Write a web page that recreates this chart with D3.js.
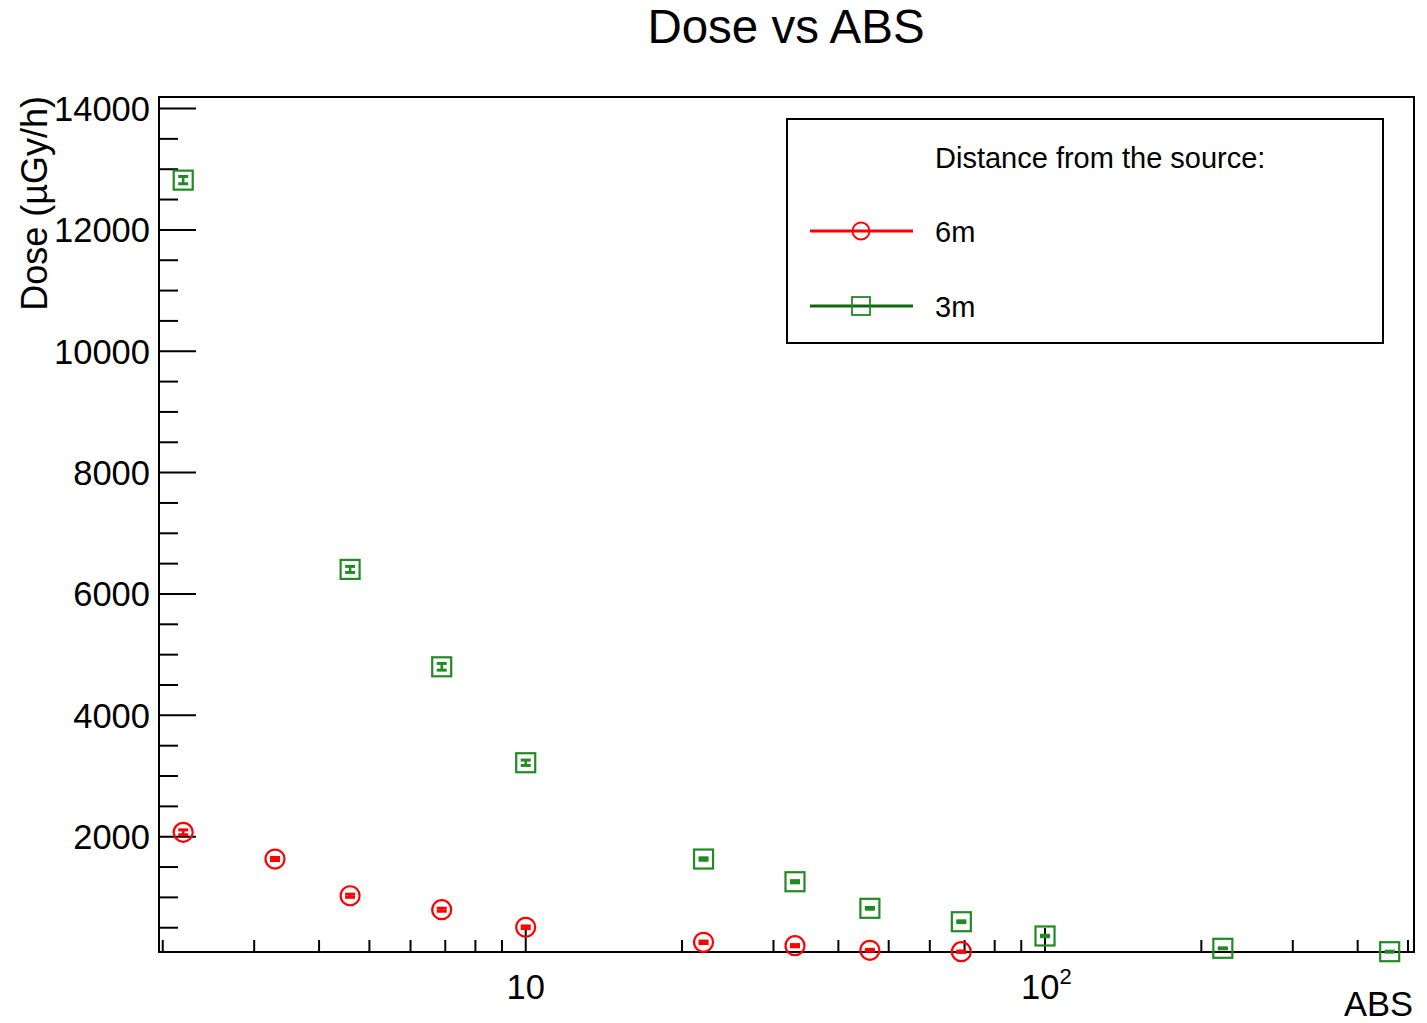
<!DOCTYPE html>
<html><head><meta charset="utf-8">
<script src="https://cdn.jsdelivr.net/npm/d3@7"></script>
<style>body{margin:0;background:#fff} text{font-family:"Liberation Sans",Arial,Helvetica,sans-serif;fill:#000}</style>
</head><body><svg id="c" width="1427" height="1023"></svg>
<script>
// ---- data ----
const abs6m  = [2.19, 3.29, 4.59, 6.89, 10, 22, 33, 46, 69];
const dose6m = [2072, 1632, 1027, 797, 507, 260, 204, 128, 105];
const err6m  = [40, 25, 25, 25, 22, 20, 18, 15, 12];
const abs3m  = [2.19, 4.59, 6.89, 10, 22, 33, 46, 69, 100, 220, 461];
const dose3m = [12820, 6405, 4800, 3219, 1632, 1258, 820, 599, 364, 161, 105];
const err3m  = [60, 50, 55, 44, 20, 18, 15, 15, 12, 8, 8];
const yTicks = [2000, 4000, 6000, 8000, 10000, 12000, 14000];
const yTickLabels = ["2000", "4000", "6000", "8000", "10000", "12000", "14000"];
const xMajor = [10, 100];
const xMinor = [2,3,4,5,6,7,8,9,20,30,40,50,60,70,80,90,200,300,400,500];
const seriesNames = ["6m", "3m"];

const svg = d3.select("#c");
const L = 159, R = 1414, T = 97, B = 952;
const x = d3.scaleLog().domain([1.967, 513.5]).range([L, R]);
const y = d3.scaleLinear().domain([100, 14190]).range([B, T]);

const RED = "#ff0000", GREEN = "#228a22", GREEN_DARK = "#0a6a0a";

// title
svg.append("text").attr("x", 786).attr("y", 43).attr("text-anchor", "middle")
  .style("font-size", "47.5px").text("Dose vs ABS");

// frame
svg.append("rect").attr("x", L).attr("y", T).attr("width", R - L).attr("height", B - T)
  .attr("fill", "none").attr("stroke", "#000").attr("stroke-width", 2);

// y ticks
const yMinor = d3.range(500, 14190, 500).filter(v => v % 2000 !== 0);
yMinor.forEach(v => svg.append("line").attr("x1", L).attr("x2", L + 19)
  .attr("y1", y(v)).attr("y2", y(v)).attr("stroke", "#000").attr("stroke-width", 2));
yTicks.forEach((v, i) => {
  svg.append("line").attr("x1", L).attr("x2", L + 37)
    .attr("y1", y(v)).attr("y2", y(v)).attr("stroke", "#000").attr("stroke-width", 2);
  svg.append("text").attr("x", 150).attr("y", y(v) + 12.5).attr("text-anchor", "end")
    .style("font-size", "34.5px").text(yTickLabels[i]);
});

// x ticks
xMinor.forEach(v => svg.append("line").attr("x1", x(v)).attr("x2", x(v))
  .attr("y1", B).attr("y2", B - 12).attr("stroke", "#000").attr("stroke-width", 2));
xMajor.forEach(v => svg.append("line").attr("x1", x(v)).attr("x2", x(v))
  .attr("y1", B).attr("y2", B - 24).attr("stroke", "#000").attr("stroke-width", 2));
svg.append("text").attr("x", x(10)).attr("y", 999).attr("text-anchor", "middle")
  .style("font-size", "34.5px").text("10");
const t2 = svg.append("text").attr("x", x(100) - 24).attr("y", 999).attr("text-anchor", "start")
  .style("font-size", "34.5px");
t2.append("tspan").text("10");
t2.append("tspan").attr("dy", -15).style("font-size", "22px").text("2");

// axis titles
svg.append("text").attr("x", 1413).attr("y", 1016).attr("text-anchor", "end")
  .style("font-size", "34.5px").text("ABS");
svg.append("text").attr("transform", "translate(47,96) rotate(-90)").attr("text-anchor", "end")
  .style("font-size", "36px").text("Dose (µGy/h)");

// data markers
function drawSeries(xs, ys, es, color, shape) {
  const g = svg.append("g");
  xs.forEach((xv, i) => {
    const cx = x(xv), cy = y(ys[i]);
    const y1 = y(ys[i] - es[i]), y2 = y(ys[i] + es[i]);
    g.append("line").attr("x1", cx).attr("x2", cx).attr("y1", y1).attr("y2", y2)
      .attr("stroke", color).attr("stroke-width", 2.5);
    [y1, y2].forEach(yy => g.append("line").attr("x1", cx - 5).attr("x2", cx + 5)
      .attr("y1", yy).attr("y2", yy).attr("stroke", color).attr("stroke-width", 3));
    if (shape === "circle") {
      g.append("circle").attr("cx", cx).attr("cy", cy).attr("r", 9.5)
        .attr("fill", "none").attr("stroke", color).attr("stroke-width", 2.2);
    } else {
      g.append("rect").attr("x", cx - 9.5).attr("y", cy - 9.5).attr("width", 19).attr("height", 19)
        .attr("fill", "none").attr("stroke", color).attr("stroke-width", 2.2);
    }
  });
}
drawSeries(abs3m, dose3m, err3m, GREEN, "square");
drawSeries(abs6m, dose6m, err6m, RED, "circle");

// legend
const lg = svg.append("g");
lg.append("rect").attr("x", 787).attr("y", 119).attr("width", 596).attr("height", 224)
  .attr("fill", "#fff").attr("stroke", "#000").attr("stroke-width", 2);
lg.append("text").attr("x", 935).attr("y", 168).style("font-size", "29px").text("Distance from the source:");
const items = [{name: seriesNames[0], color: RED, shape: "circle", yy: 231},
               {name: seriesNames[1], color: GREEN_DARK, shape: "square", yy: 306}];
items.forEach(it => {
  lg.append("line").attr("x1", 810).attr("x2", 913).attr("y1", it.yy).attr("y2", it.yy)
    .attr("stroke", it.color).attr("stroke-width", 3);
  if (it.shape === "circle") {
    lg.append("circle").attr("cx", 861).attr("cy", it.yy).attr("r", 8.5)
      .attr("fill", "none").attr("stroke", RED).attr("stroke-width", 1.8);
  } else {
    lg.append("rect").attr("x", 852).attr("y", it.yy - 9).attr("width", 18).attr("height", 18)
      .attr("fill", "none").attr("stroke", GREEN).attr("stroke-width", 1.8);
  }
  lg.append("text").attr("x", 935).attr("y", it.yy + 10.5).style("font-size", "29px").text(it.name);
});
</script></body></html>
